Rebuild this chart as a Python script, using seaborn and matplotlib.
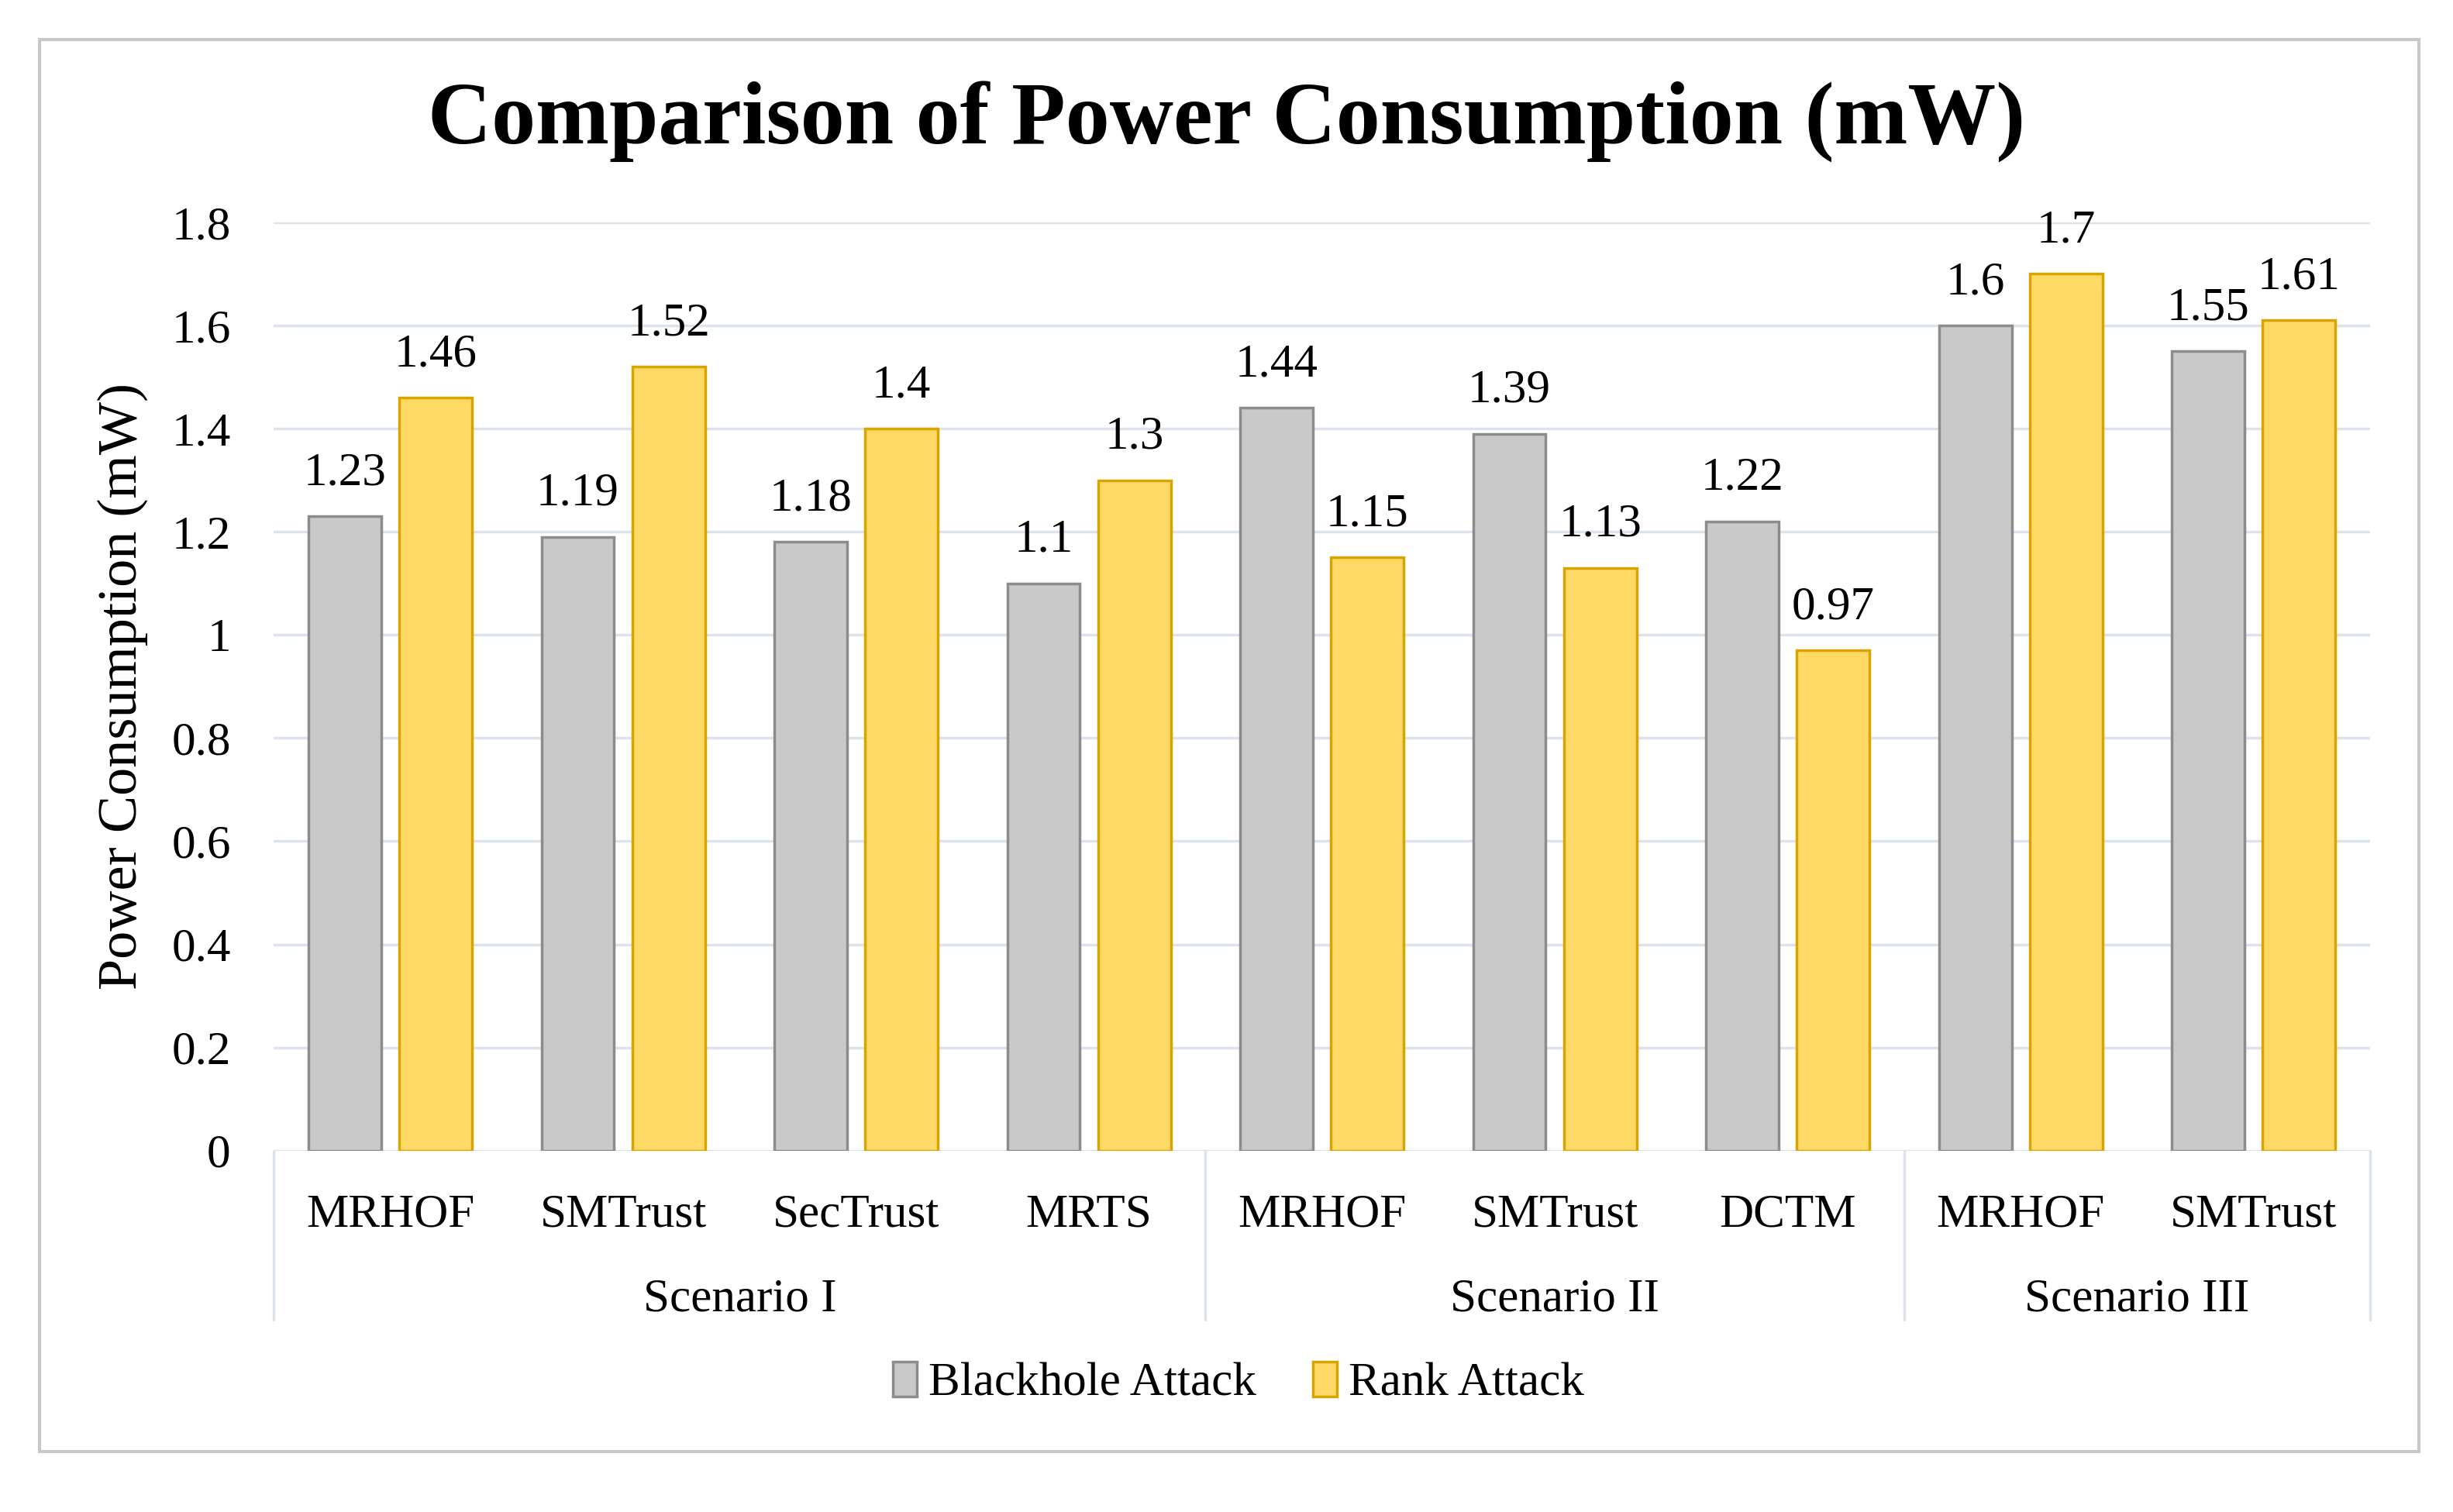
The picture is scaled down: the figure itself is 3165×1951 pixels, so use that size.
import pandas as pd
import numpy as np
import matplotlib.pyplot as plt
import seaborn as sns
from matplotlib.patches import Rectangle, Patch

sns.set_theme(style="white")
plt.rcParams['font.family'] = ['Liberation Serif', 'DejaVu Serif']
plt.rcParams['text.color'] = 'black'
plt.rcParams['xtick.color'] = 'black'
plt.rcParams['ytick.color'] = 'black'
plt.rcParams['axes.labelcolor'] = 'black'

# data
methods = ['MRHOF', 'SMTrust', 'SecTrust', 'MRTS', 'MRHOF', 'SMTrust', 'DCTM', 'MRHOF', 'SMTrust']
scenarios = ['Scenario I', 'Scenario II', 'Scenario III']
scenario_sizes = [4, 3, 2]
blackhole = [1.23, 1.19, 1.18, 1.1, 1.44, 1.39, 1.22, 1.6, 1.55]
rank = [1.46, 1.52, 1.4, 1.3, 1.15, 1.13, 0.97, 1.7, 1.61]
series = ['Blackhole Attack', 'Rank Attack']
yticks = [0, 0.2, 0.4, 0.6, 0.8, 1, 1.2, 1.4, 1.6, 1.8]

fill_colors = ['#C9C9C9', '#FFD966']
edge_colors = ['#8C8C8C', '#D9A300']
grid_color = '#DCE3EC'

keys = [f'c{i}' for i in range(len(methods))]
df = pd.DataFrame({
    'key': keys * 2,
    'value': blackhole + rank,
    'series': [series[0]] * len(keys) + [series[1]] * len(keys),
})

fig = plt.figure(figsize=(31.65, 19.51), dpi=100)
ax = fig.add_axes([0.1116, 0.239, 0.8546, 0.614])

ax.set_axisbelow(True)
for y in yticks:
    ax.axhline(y, color=grid_color, lw=2.5, zorder=0)

sns.barplot(data=df, x='key', y='value', hue='series', order=keys,
            hue_order=series, palette=fill_colors, saturation=1,
            width=0.78, gap=0.2, ax=ax, legend=False, zorder=2)

# edge colours and value labels
for i, cont in enumerate(ax.containers):
    for bar, val in zip(cont, [blackhole, rank][i]):
        bar.set_edgecolor(edge_colors[i])
        bar.set_linewidth(2.5)
        ax.annotate(f'{val:g}', (bar.get_x() + bar.get_width() / 2, val),
                    xytext=(0, 40), textcoords='offset points',
                    ha='center', va='center', fontsize=44, clip_on=False)

ax.set_xlim(-0.5, len(keys) - 0.5)
ax.set_ylim(0, 1.8)
ax.set_yticks(yticks)
ax.set_yticklabels([f'{t:g}' for t in yticks], fontsize=44)
ax.tick_params(axis='y', length=0, pad=40)
ax.set_xticks(range(len(keys)))
ax.set_xticklabels(methods, fontsize=44)
ax.tick_params(axis='x', length=0, pad=40)
ax.set_xlabel('')
ax.set_ylabel('Power Consumption (mW)', fontsize=52, labelpad=22)
for s in ax.spines.values():
    s.set_visible(False)

# scenario labels and separators below the axis
trans = ax.get_xaxis_transform()
bounds = np.concatenate([[0], np.cumsum(scenario_sizes)]) - 0.5
for b in bounds:
    ax.plot([b, b], [0, -0.182], transform=trans, color=grid_color,
            lw=2.5, clip_on=False)
for name, lo, hi in zip(scenarios, bounds[:-1], bounds[1:]):
    ax.text((lo + hi) / 2, -0.16, name, transform=trans, ha='center',
            va='center', fontsize=44)

fig.suptitle('Comparison of Power Consumption (mW)', fontsize=82,
             fontweight='bold', y=0.92, va='center', x=0.5)

handles = [Patch(facecolor=fill_colors[i], edgecolor=edge_colors[i], lw=2.5)
           for i in range(2)]
fig.legend(handles, series, loc='center', bbox_to_anchor=(0.505, 0.085),
           ncol=2, frameon=False, fontsize=44, handlelength=0.5,
           handleheight=0.75, handletextpad=0.25, columnspacing=1.2)

fig.patches.append(Rectangle((0.016, 0.04), 0.970, 0.934,
                             transform=fig.transFigure, fill=False,
                             edgecolor='#C8C8C8', lw=3))

fig.savefig('out.png', dpi=100, facecolor='white')
